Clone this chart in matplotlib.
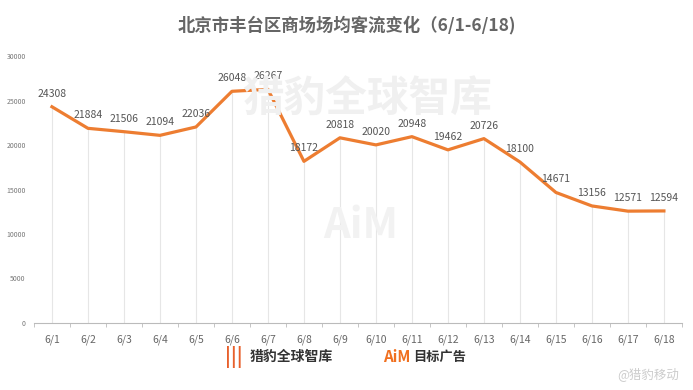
import numpy as np
import matplotlib.pyplot as plt

plt.rcParams['font.family'] = ['Noto Sans CJK SC', 'DejaVu Sans']

days = ['6/1', '6/2', '6/3', '6/4', '6/5', '6/6', '6/7', '6/8', '6/9',
        '6/10', '6/11', '6/12', '6/13', '6/14', '6/15', '6/16', '6/17', '6/18']
visitors = [24308, 21884, 21506, 21094, 22036, 26048, 26267, 18172, 20818,
            20020, 20948, 19462, 20726, 18100, 14671, 13156, 12571, 12594]
yticks = [0, 5000, 10000, 15000, 20000, 25000, 30000]

fig = plt.figure(figsize=(6.93, 3.9), dpi=100)
ax = fig.add_axes([0.049, 0.172, 0.935, 0.684])
x = np.arange(len(days))

# drop lines from each point down to the axis
ax.vlines(x, 0, visitors, color='#e6e6e6', linewidth=0.8, zorder=1)
ax.plot(x, visitors, color='#ed7d31', linewidth=2.3, zorder=3)
for xi, v in zip(x, visitors):
    ax.text(xi, v + 900, str(v), ha='center', va='bottom', fontsize=7.5,
            color='#555555', zorder=4)

ax.set_xlim(-0.5, len(days) - 0.5)
ax.set_ylim(0, 30000)
ax.set_yticks(yticks)
ax.set_yticklabels([str(t) for t in yticks], fontsize=5, color='#777777')
ax.set_xticks(x)
ax.set_xticklabels(days, fontsize=7.5, color='#666666')
ax.set_xticks(np.arange(-0.5, len(days)), minor=True)
ax.tick_params(axis='x', which='major', length=0, pad=8)
ax.tick_params(axis='x', which='minor', length=3, color='#bbbbbb')
ax.tick_params(axis='y', length=0, pad=6)
for s in ['top', 'right', 'left']:
    ax.spines[s].set_visible(False)
ax.spines['bottom'].set_color('#bbbbbb')

fig.text(0.5, 0.935, '北京市丰台区商场场均客流变化（6/1-6/18)', ha='center', va='center',
         fontsize=12.5, fontweight='bold', color='#666666')

# watermarks
fig.text(0.53, 0.745, '猎豹全球智库', ha='center', va='center', fontsize=30,
         fontweight='bold', color='#f0f0f0', zorder=0)
fig.text(0.52, 0.42, 'AiM', ha='center', va='center', fontsize=30,
         fontweight='bold', color='#f2f2f2', zorder=0)

# footer logos
fig.text(0.338, 0.085, '|||', ha='center', va='center', fontsize=14,
         fontweight='bold', color='#e8602c')
fig.text(0.42, 0.085, '猎豹全球智库', ha='center', va='center', fontsize=10,
         fontweight='bold', color='#333333')
fig.text(0.572, 0.085, 'AiM', ha='center', va='center', fontsize=11,
         fontweight='bold', fontstyle='italic', color='#f07020')
fig.text(0.635, 0.085, '目标广告', ha='center', va='center', fontsize=9.5,
         fontweight='bold', color='#333333')
fig.text(0.935, 0.04, '@猎豹移动', ha='center', va='center', fontsize=9,
         color='#cccccc')

fig.savefig('out.png', dpi=100)
